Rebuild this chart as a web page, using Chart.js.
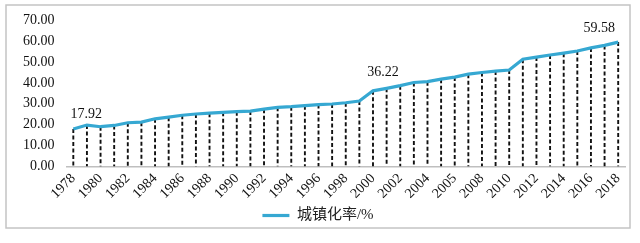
<!DOCTYPE html>
<html>
<head>
<meta charset="utf-8">
<script src="https://cdn.jsdelivr.net/npm/chart.js@4/dist/chart.umd.min.js"></script>
<style>
  html, body { margin: 0; padding: 0; background: #fff; }
  #wrap { width: 640px; height: 243px; position: relative; }
</style>
</head>
<body>
<div id="wrap"><canvas id="c" width="640" height="243"></canvas></div>
<script>
// ---- data ----
const years = [1978,1979,1980,1981,1982,1983,1984,1985,1986,1987,1988,1989,1990,1991,1992,1993,1994,1995,1996,1997,1998,1999,2000,2001,2002,2003,2004,2005,2006,2007,2008,2009,2010,2011,2012,2013,2014,2015,2016,2017,2018];
const urbanRate = [17.92,19.8,19.0,19.6,20.9,21.2,22.8,23.6,24.5,25.1,25.5,25.9,26.2,26.5,27.4,28.3,28.6,29.1,29.6,29.9,30.5,31.3,36.22,37.4,38.7,40.2,40.6,41.8,42.8,44.2,45.0,45.7,46.2,51.4,52.4,53.4,54.3,55.3,56.8,58.0,59.58];
const tickLabels = ['1978','1980','1982','1984','1986','1988','1990','1992','1994','1996','1998','2000','2002','2004','2005','2008','2010','2012','2014','2016','2018'];
const labeledIndex = [0, 22, 40];
const seriesName = '城镇化率/%';

// ---- styling (not data) ----
const labelPlacement = { 0: [13, -15], 22: [10, -18], 40: [-19, -14] };
const SERIF = '"Liberation Serif", "Times New Roman", "Noto Sans CJK SC", serif';
const lineColor = '#36a8d2';

const dropLines = {
  id: 'dropLines',
  beforeDatasetsDraw(chart) {
    const { ctx, scales } = chart;
    const meta = chart.getDatasetMeta(0);
    const y0 = scales.y.getPixelForValue(0);
    ctx.save();
    ctx.strokeStyle = '#111';
    ctx.lineWidth = 1.9;
    ctx.setLineDash([4, 2.5]);
    meta.data.forEach(pt => {
      ctx.beginPath();
      ctx.moveTo(pt.x, pt.y);
      ctx.lineTo(pt.x, y0);
      ctx.stroke();
    });
    ctx.restore();
  }
};

const valueLabels = {
  id: 'valueLabels',
  afterDatasetsDraw(chart) {
    const { ctx } = chart;
    const meta = chart.getDatasetMeta(0);
    ctx.save();
    ctx.font = '14px ' + SERIF;
    ctx.fillStyle = '#111';
    ctx.textAlign = 'center';
    ctx.textBaseline = 'middle';
    labeledIndex.forEach(i => {
      const pt = meta.data[i];
      const off = labelPlacement[i] || [0, -15];
      ctx.fillText(urbanRate[i].toFixed(2), pt.x + off[0], pt.y + off[1]);
    });
    ctx.restore();
  }
};

const frame = {
  id: 'frame',
  beforeDraw(chart) {
    const { ctx } = chart;
    ctx.save();
    ctx.fillStyle = '#fff';
    ctx.fillRect(0, 0, chart.width, chart.height);
    ctx.strokeStyle = '#c4c4c4';
    ctx.lineWidth = 1.5;
    ctx.strokeRect(6, 5, 624, 223);
    ctx.restore();
  }
};

new Chart(document.getElementById('c'), {
  type: 'line',
  data: {
    labels: years.map(String),
    datasets: [{
      label: seriesName,
      data: urbanRate,
      borderColor: lineColor,
      backgroundColor: lineColor,
      borderWidth: 3.2,
      pointRadius: 0,
      pointHoverRadius: 0,
      pointStyle: 'line',
      tension: 0,
      fill: false
    }]
  },
  options: {
    responsive: false,
    animation: false,
    devicePixelRatio: 1,
    layout: { padding: { left: 11, right: 15, top: 19, bottom: 10 } },
    plugins: {
      tooltip: { enabled: false },
      legend: {
        display: true,
        position: 'bottom',
        labels: {
          usePointStyle: true,
          pointStyleWidth: 27,
          boxHeight: 3,
          color: '#222',
          padding: 2,
          font: { family: SERIF, size: 15 }
        }
      }
    },
    scales: {
      x: {
        offset: true,
        grid: { display: false, drawTicks: false },
        border: { display: true, color: '#bfbfbf', width: 1.5 },
        ticks: {
          autoSkip: false,
          maxRotation: 45,
          minRotation: 45,
          padding: 4,
          color: '#111',
          font: { family: SERIF, size: 14 },
          callback: (v, i) => (i % 2 === 0 ? tickLabels[i / 2] : '')
        }
      },
      y: {
        min: 0,
        max: 70,
        grid: { display: false, drawTicks: false },
        border: { display: false },
        ticks: {
          stepSize: 10,
          padding: 12,
          color: '#111',
          font: { family: SERIF, size: 14 },
          callback: v => Number(v).toFixed(2)
        }
      }
    }
  },
  plugins: [frame, dropLines, valueLabels]
});
</script>
</body>
</html>
